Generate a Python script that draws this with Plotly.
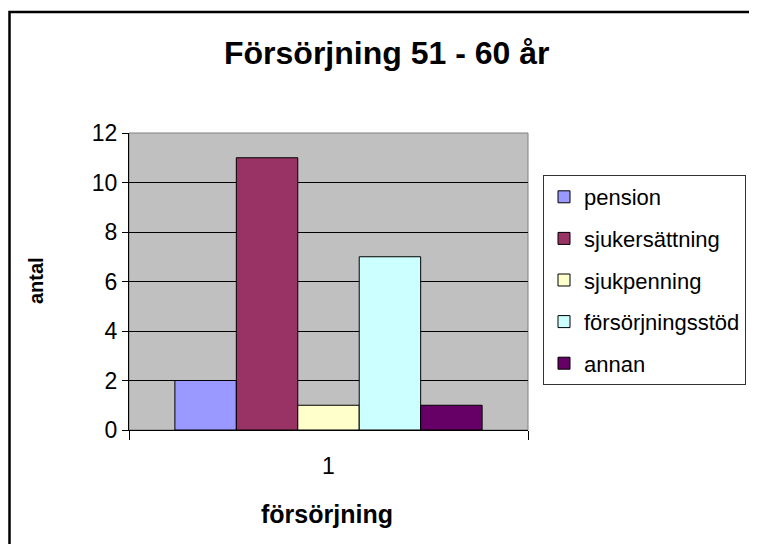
import plotly.graph_objects as go

categories = ["1"]
series_names = ["pension", "sjukersättning", "sjukpenning", "försörjningsstöd", "annan"]
series_values = [2, 11, 1, 7, 1]
series_colors = ["#9999FF", "#993366", "#FFFFCC", "#CCFFFF", "#660066"]
y_ticks = [0, 2, 4, 6, 8, 10, 12]

FONT = "Liberation Sans, Arial, sans-serif"

fig = go.Figure()
for name, val, col in zip(series_names, series_values, series_colors):
    fig.add_trace(go.Bar(
        x=categories, y=[val], name=name, legendgroup=name,
        marker=dict(color=col, line=dict(color="black", width=1)),
    ))

# page has an 8px body margin; keep the figure inside the 757x552 window
OFF = 8
W, H = 757 - 2 * OFF, 552 - 2 * OFF
# plot area in reference (window) pixels
L, R, T, B = 129, 528, 133, 430

def px_x(p):
    return (p - L) / (R - L)

def px_y(p):
    return (B - p) / (B - T)

fig.update_layout(
    width=W, height=H,
    margin=dict(l=L - OFF, r=W - (R - OFF), t=T - OFF, b=H - (B - OFF),
                autoexpand=False),
    paper_bgcolor="white",
    plot_bgcolor="#C0C0C0",
    font=dict(family=FONT, color="black", size=23),
    barmode="group",
    bargap=0.23,
    bargroupgap=0,
    showlegend=True,
    legend=dict(
        x=px_x(543), y=px_y(175), xanchor="left", yanchor="top",
        bgcolor="white", bordercolor="#333333", borderwidth=1,
        font=dict(family=FONT, size=22, color="black"),
        tracegroupgap=10,
    ),
    xaxis=dict(
        type="category", range=[-0.5, 0.5],
        showline=True, linecolor="black", linewidth=1,
        ticks="outside", tickson="boundaries", ticklen=9, tickcolor="black",
        showticklabels=False, showgrid=False, zeroline=False,
    ),
    yaxis=dict(
        range=[0, 12], tickvals=y_ticks,
        showline=True, linecolor="black", linewidth=1,
        ticks="outside", ticklen=6, tickcolor="black",
        showgrid=True, gridcolor="black", gridwidth=1,
        zeroline=False,
        tickfont=dict(size=23, family=FONT),
    ),
    shapes=[
        # plot area border
        dict(type="rect", xref="paper", yref="paper", x0=0, x1=1, y0=0, y1=1,
             line=dict(color="#808080", width=1), layer="below"),
        # outer chart border (right and bottom edges fall outside the window)
        dict(type="rect", xref="paper", yref="paper",
             x0=px_x(9.5), x1=px_x(800), y0=px_y(12), y1=px_y(600),
             line=dict(color="black", width=2.5), layer="above"),
    ],
    annotations=[
        dict(text="<b>Försörjning 51 - 60 år</b>", xref="paper", yref="paper",
             x=px_x(386), y=px_y(53), xanchor="center", yanchor="middle",
             showarrow=False, font=dict(size=32, family=FONT)),
        dict(text="<b>antal</b>", xref="paper", yref="paper",
             x=px_x(36), y=px_y(281), xanchor="center", yanchor="middle",
             textangle=-90, showarrow=False, font=dict(size=20, family=FONT)),
        dict(text="1", xref="paper", yref="paper",
             x=px_x(328), y=px_y(466), xanchor="center", yanchor="middle",
             showarrow=False, font=dict(size=23, family=FONT)),
        dict(text="<b>försörjning</b>", xref="paper", yref="paper",
             x=px_x(327), y=px_y(514), xanchor="center", yanchor="middle",
             showarrow=False, font=dict(size=25, family=FONT)),
    ],
)

fig.write_html("out.html")
